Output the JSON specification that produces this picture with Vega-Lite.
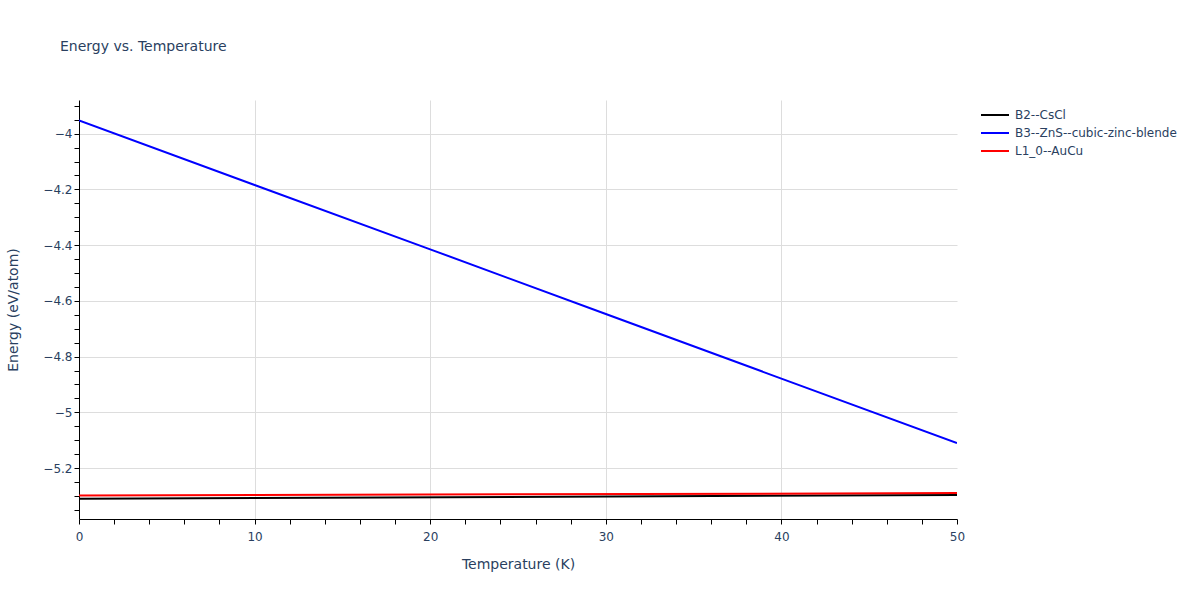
{
  "$schema": "https://vega.github.io/schema/vega-lite/v6.json",
  "width": 878,
  "height": 419,
  "autosize": {"type": "none"},
  "padding": {"left": 79, "top": 100, "right": 243, "bottom": 81},
  "background": "white",
  "title": {
    "text": "Energy vs. Temperature",
    "anchor": "start",
    "frame": "group",
    "dx": -19,
    "offset": 46,
    "font": "DejaVu Sans",
    "fontSize": 14,
    "fontWeight": "normal",
    "color": "#2a3f5f"
  },
  "config": {
    "view": {"stroke": null},
    "font": "DejaVu Sans"
  },
  "data": {
    "values": [
      {"structure": "B2--CsCl", "T": 0, "E": -5.310},
      {"structure": "B2--CsCl", "T": 50, "E": -5.297},
      {"structure": "B3--ZnS--cubic-zinc-blende", "T": 0, "E": -3.952},
      {"structure": "B3--ZnS--cubic-zinc-blende", "T": 10, "E": -4.184},
      {"structure": "B3--ZnS--cubic-zinc-blende", "T": 20, "E": -4.415},
      {"structure": "B3--ZnS--cubic-zinc-blende", "T": 30, "E": -4.647},
      {"structure": "B3--ZnS--cubic-zinc-blende", "T": 40, "E": -4.879},
      {"structure": "B3--ZnS--cubic-zinc-blende", "T": 50, "E": -5.110},
      {"structure": "L1_0--AuCu", "T": 0, "E": -5.299},
      {"structure": "L1_0--AuCu", "T": 50, "E": -5.290}
    ]
  },
  "mark": {"type": "line", "strokeWidth": 2, "clip": true},
  "encoding": {
    "x": {
      "field": "T",
      "type": "quantitative",
      "scale": {"domain": [0, 50], "nice": false, "zero": false},
      "axis": {
        "title": "Temperature (K)",
        "titleFont": "DejaVu Sans",
        "titleFontSize": 14,
        "titleFontWeight": "normal",
        "titleColor": "#2a3f5f",
        "titlePadding": 15,
        "values": [0,2,4,6,8,10,12,14,16,18,20,22,24,26,28,30,32,34,36,38,40,42,44,46,48,50],
        "labelExpr": "datum.value % 10 === 0 ? format(datum.value, '~g') : ''",
        "labelOverlap": false,
        "labelFlush": false,
        "labelFont": "DejaVu Sans",
        "labelFontSize": 12,
        "labelColor": "#2a3f5f",
        "labelPadding": 7,
        "grid": true,
        "gridColor": "#dddddd",
        "gridOpacity": {"condition": {"test": "datum.value % 10 === 0 && datum.value > 0 && datum.value < 50", "value": 1}, "value": 0},
        "domainColor": "#000000",
        "domainWidth": 1,
        "tickColor": "#000000",
        "tickSize": 5
      }
    },
    "y": {
      "field": "E",
      "type": "quantitative",
      "scale": {"domain": [-5.383, -3.879], "nice": false, "zero": false},
      "axis": {
        "title": "Energy (eV/atom)",
        "titleFont": "DejaVu Sans",
        "titleFontSize": 14,
        "titleFontWeight": "normal",
        "titleColor": "#2a3f5f",
        "titlePadding": 22,
        "values": [-5.35,-5.3,-5.25,-5.2,-5.15,-5.1,-5.05,-5,-4.95,-4.9,-4.85,-4.8,-4.75,-4.7,-4.65,-4.6,-4.55,-4.5,-4.45,-4.4,-4.35,-4.3,-4.25,-4.2,-4.15,-4.1,-4.05,-4,-3.95,-3.9],
        "labelExpr": "abs(datum.value*5 - round(datum.value*5)) < 0.000001 ? format(datum.value, '~g') : ''",
        "labelOverlap": false,
        "labelFont": "DejaVu Sans",
        "labelFontSize": 12,
        "labelColor": "#2a3f5f",
        "labelPadding": 2,
        "grid": true,
        "gridColor": "#dddddd",
        "gridOpacity": {"condition": {"test": "abs(datum.value*5 - round(datum.value*5)) < 0.000001", "value": 1}, "value": 0},
        "domainColor": "#000000",
        "domainWidth": 1,
        "tickColor": "#000000",
        "tickSize": 5
      }
    },
    "color": {
      "field": "structure",
      "type": "nominal",
      "scale": {
        "domain": ["B2--CsCl", "B3--ZnS--cubic-zinc-blende", "L1_0--AuCu"],
        "range": ["#000000", "#0000ff", "#ff0000"]
      },
      "legend": {
        "title": null,
        "orient": "none",
        "legendX": 908,
        "legendY": 7,
        "symbolType": "M-2,0H2",
        "symbolSize": 196,
        "symbolStrokeWidth": 2,
        "labelFont": "DejaVu Sans",
        "labelFontSize": 12,
        "labelColor": "#2a3f5f",
        "labelOffset": 12,
        "labelLimit": 300,
        "rowPadding": 4
      }
    }
  }
}
